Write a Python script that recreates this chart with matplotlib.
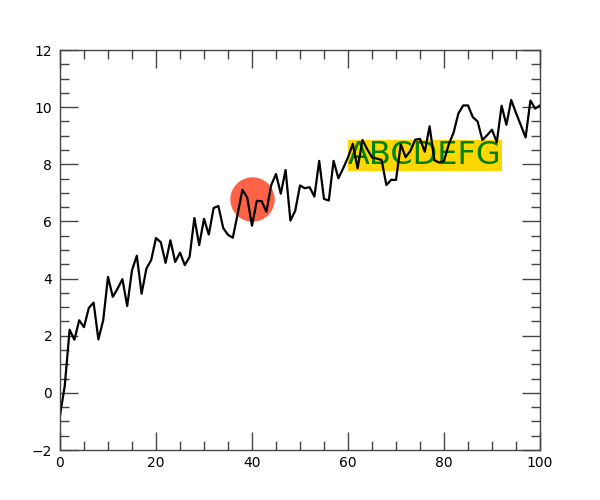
import numpy as np
import matplotlib
matplotlib.use("Agg")
import matplotlib.pyplot as plt
from matplotlib.ticker import MultipleLocator

# series, one value per integer x
x = np.arange(0, 101)
y = [-0.80, 0.26, 2.21, 1.86, 2.54, 2.30, 2.97, 3.16, 1.87, 2.54,
     4.06, 3.36, 3.65, 3.98, 3.04, 4.29, 4.80, 3.47, 4.35, 4.65,
     5.42, 5.27, 4.55, 5.34, 4.58, 4.91, 4.47, 4.76, 6.12, 5.17,
     6.09, 5.54, 6.47, 6.54, 5.77, 5.53, 5.43, 6.25, 7.11, 6.84,
     5.85, 6.72, 6.71, 6.34, 7.27, 7.66, 6.97, 7.80, 6.03, 6.37,
     7.26, 7.16, 7.20, 6.87, 8.12, 6.79, 6.73, 8.12, 7.51, 7.86,
     8.24, 8.72, 7.86, 8.85, 8.53, 8.24, 8.20, 8.15, 7.27, 7.46,
     7.45, 8.70, 8.25, 8.47, 8.86, 8.89, 8.44, 9.33, 8.14, 8.06,
     8.12, 8.70, 9.11, 9.78, 10.06, 10.06, 9.65, 9.50, 8.85, 9.02,
     9.21, 8.77, 10.05, 9.38, 10.25, 9.80, 9.37, 8.94, 10.23, 9.95,
     10.06]

dot_x, dot_y = 40, 6.8
label = "ABCDEFG"
label_x, label_y = 60, 8

fig = plt.figure(figsize=(6, 5), dpi=100)
ax = fig.add_axes([0.1, 0.1, 0.8, 0.8])

# circle and label sit underneath the line
ax.plot([dot_x], [dot_y], "o", color="tomato", ms=32, mec="none", zorder=1)
ax.text(label_x, label_y, label, color="green", fontsize=23, va="baseline",
        bbox=dict(boxstyle="square,pad=0", fc="gold", ec="none"), zorder=1)
ax.plot(x, y, color="black", lw=1.6, zorder=2)

ax.set_xlim(0, 100)
ax.set_ylim(-2, 12)
ax.xaxis.set_major_locator(MultipleLocator(20))
ax.xaxis.set_minor_locator(MultipleLocator(5))
ax.yaxis.set_major_locator(MultipleLocator(2))
ax.yaxis.set_minor_locator(MultipleLocator(0.5))
ax.tick_params(which="both", direction="in", top=True, right=True,
               color="#444444", width=1, labelsize=10)
ax.tick_params(which="major", length=12.7)
ax.tick_params(which="minor", length=6.5)
ax.tick_params(axis="x", pad=4)
ax.tick_params(axis="y", pad=5.5)
for s in ax.spines.values():
    s.set_color("#444444")
    s.set_linewidth(1)

fig.savefig("out.png")
